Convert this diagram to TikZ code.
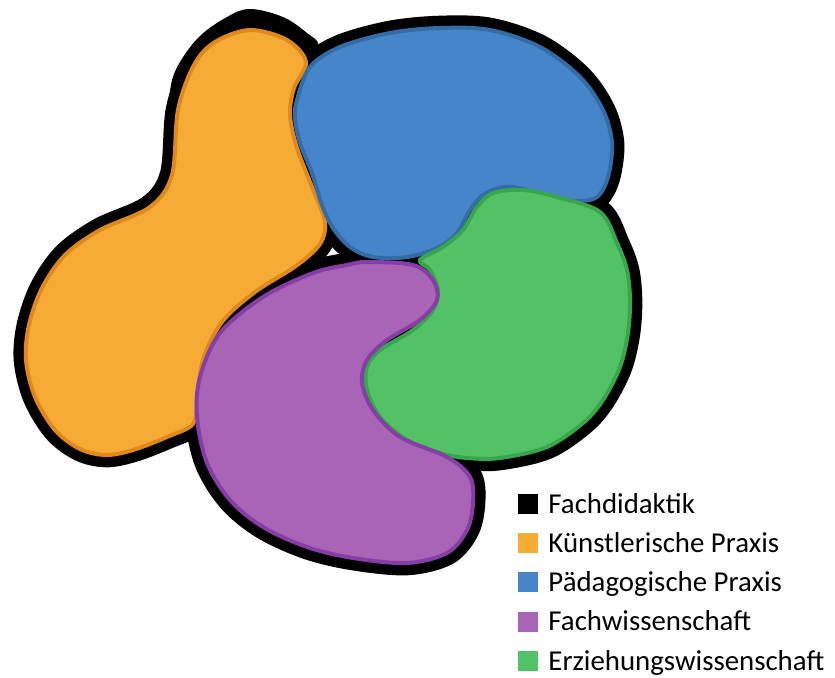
\documentclass[tikz,border=0pt]{standalone}
\usepackage{fontspec}
\setmainfont{Carlito}
\usetikzlibrary{positioning}

\definecolor{kpfill}{RGB}{246,172,52}
\definecolor{kpline}{RGB}{224,136,28}
\definecolor{ppfill}{RGB}{71,133,203}
\definecolor{ppline}{RGB}{52,108,168}
\definecolor{ewfill}{RGB}{83,193,101}
\definecolor{ewline}{RGB}{56,166,74}
\definecolor{fwfill}{RGB}{168,101,182}
\definecolor{fwline}{RGB}{134,62,166}

% the four blobs, in pixel coordinates
\newcommand{\blobkp}[1]{\draw[#1] plot[smooth cycle,tension=0.55] coordinates {
  (250,30) (287,40) (306,62) (294,88) (290,115) (297,148) (314,192) (325,222)
  (320,244) (296,266) (255,292) (222,322) (203,360) (197,400) (193,424)
  (167,437) (133,450) (106,455) (80,449) (55,430) (35,397) (26,360) (29,325)
  (42,288) (65,255) (100,230) (150,207) (172,175) (178,110) (194,65) (215,42)};}
\newcommand{\blobpp}[1]{\draw[#1] plot[smooth cycle,tension=0.55] coordinates {
  (297,100) (310,67) (340,47) (390,33) (440,28) (490,30) (540,47) (580,77)
  (603,110) (612,143) (608,177) (597,197) (577,201) (550,197) (523,189)
  (503,187) (483,195) (470,210) (457,233) (437,248) (407,257) (373,257)
  (350,247) (333,228) (322,205) (312,173) (300,143) (295,118)};}
\newcommand{\blobew}[1]{\draw[#1] plot[smooth cycle,tension=0.55] coordinates {
  (420,260) (443,247) (463,230) (477,207) (493,193) (523,190) (557,197)
  (600,212) (617,243) (627,270) (630,300) (628,333) (620,367) (603,400)
  (583,423) (547,447) (500,458) (467,458) (440,453) (407,440) (380,417)
  (367,390) (367,367) (380,350) (413,330) (433,310) (438,290) (430,270)};}
\newcommand{\blobfw}[1]{\draw[#1] plot[smooth cycle,tension=0.55] coordinates {
  (367,262) (413,265) (433,280) (437,300) (420,320) (387,340) (367,360)
  (362,383) (373,410) (400,437) (447,457) (470,477) (473,503) (467,530)
  (447,553) (407,563) (353,558) (307,547) (263,527) (230,500) (207,463)
  (197,417) (200,377) (220,333) (263,297) (313,273) (347,265)};}

\begin{document}
\begin{tikzpicture}[x=0.03cm,y=-0.03cm,
    rim/.style={fill=black,draw=black,line width=21pt,line join=round},
    kp/.style={fill=kpfill,draw=kpline,line width=3.4pt},
    pp/.style={fill=ppfill,draw=ppline,line width=3.4pt},
    ew/.style={fill=ewfill,draw=ewline,line width=3.4pt},
    fw/.style={fill=fwfill,draw=fwline,line width=3.4pt},
    legendbox/.style={minimum size=0.6cm,inner sep=0pt},
    legendtext/.style={inner sep=0pt,text height=16pt,text depth=0pt,
      font=\fontsize{24.6}{30}\selectfont}]
    \useasboundingbox (0,0) rectangle (835,678);
    % Fachdidaktik
    \blobkp{rim} \blobpp{rim} \blobew{rim} \blobfw{rim}
    \fill[black] plot[smooth,tension=0.6] coordinates {
      (185,140) (171,112) (171,85) (180,62) (200,36) (227,17) (250,9)
      (283,17) (307,33) (318,45) (300,62)} -- cycle;
    \blobkp{kp}
    \blobpp{pp}
    \blobew{ew}
    \blobfw{fw}
    % legend
    \foreach \col/\txt [count=\i] in {black/Fachdidaktik,
        kpfill/Künstlerische Praxis, ppfill/Pädagogische Praxis,
        fwfill/Fachwissenschaft, ewfill/Erziehungswissenschaft} {
      \node[legendbox,fill=\col] (box\i) at (528,{504+39.2*(\i-1)}) {};
      \node[legendtext,right=0.3cm of box\i] (label\i) {\txt};
    }
\end{tikzpicture}
\end{document}
